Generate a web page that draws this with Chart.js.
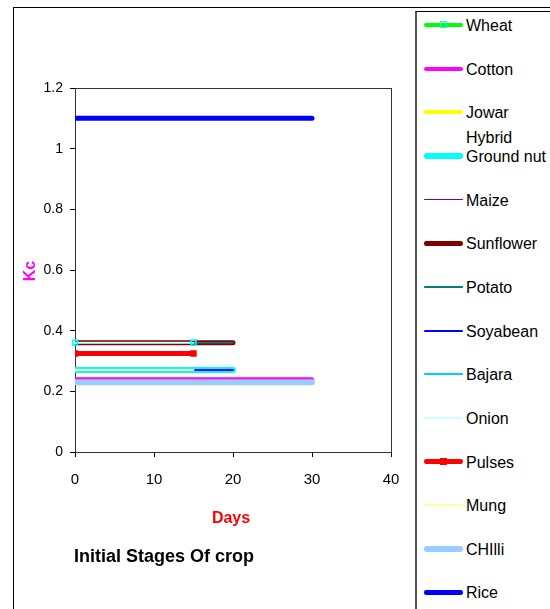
<!DOCTYPE html>
<html>
<head>
<meta charset="utf-8">
<script src="https://cdn.jsdelivr.net/npm/chart.js@4.4.1/dist/chart.umd.min.js"></script>
<style>
  html, body { margin: 0; padding: 0; background: #fff; }
  #wrap { position: relative; width: 550px; height: 609px; overflow: hidden; font-family: "Liberation Sans", Arial, sans-serif; }
  #c { position: absolute; left: 0; top: 0; }
  #legend { position: absolute; left: 415px; top: 11px; width: 220px; height: 700px; background: #fff;
            border: 1px solid #000; border-left: 2px solid #555; box-sizing: border-box; }
  .sw { position: absolute; left: 7px; width: 39px; }
  .mk { position: absolute; box-sizing: border-box; }
  .lb { position: absolute; left: 49px; font-size: 16px; line-height: 18px; white-space: nowrap; color: #000; }
</style>
</head>
<body>
<div id="wrap">
  <canvas id="c" width="550" height="609"></canvas>
  <div id="legend"></div>
</div>
<script>
// Crop coefficient (Kc) during the initial growth stage, per crop
const crops    = ['Wheat', 'Cotton', 'Jowar Hybrid', 'Ground nut', 'Maize', 'Sunflower', 'Potato',
                  'Soyabean', 'Bajara', 'Onion', 'Pulses', 'Mung', 'CHIlli', 'Rice'];
const startDay = [0, 0, 0, 0, 0, 0, 0, 0, 0, 0, 0, 0, 0, 0];
const endDay   = [15, 30, 15, 20, 20, 20, 20, 20, 15, 15, 15, 15, 30, 30];
const kcInit   = [0.36, 0.24, 0.27, 0.27, 0.36, 0.36, 0.36, 0.27, 0.27, 0.36, 0.325, 0.27, 0.23, 1.1];

// Axis tick values
const dayTicks = [0, 10, 20, 30, 40];
const kcTicks  = [0, 0.2, 0.4, 0.6, 0.8, 1, 1.2];

// Series styling
const lineColor = ['#00FF00', '#FF00FF', '#FFFF00', '#00FFFF', '#800080', '#800000', '#008080',
                   '#0000FF', '#00CCFF', '#CCFFFF', '#FF0000', '#FFFF99', '#99CCFF', '#0000FF'];
const lineWidth = [4, 4, 4, 6, 1.5, 5, 1.5, 2, 1.5, 2, 5, 2, 6, 5];
const markerIdx = { 0: { color: '#00FFFF', fill: false }, 10: { color: '#FF0000', fill: true } };

const datasets = crops.map((name, i) => {
  const m = markerIdx[i];
  return {
    label: name,
    data: [{ x: startDay[i], y: kcInit[i] }, { x: endDay[i], y: kcInit[i] }],
    borderColor: lineColor[i],
    borderWidth: lineWidth[i],
    borderCapStyle: 'round',
    fill: false,
    tension: 0,
    order: crops.length - i,          // later series are painted over earlier ones
    pointStyle: 'rect',
    pointRadius: m ? 3.5 : 0,
    pointHoverRadius: m ? 3.5 : 0,
    pointBorderColor: m ? m.color : lineColor[i],
    pointBorderWidth: m ? 1.5 : 0,
    pointBackgroundColor: m && m.fill ? m.color : 'rgba(0,0,0,0)'
  };
});

const framePlugin = {
  id: 'frame',
  beforeDraw(chart) {
    const ctx = chart.ctx;
    ctx.save();
    ctx.fillStyle = '#fff';
    ctx.fillRect(0, 0, chart.width, chart.height);
    ctx.strokeStyle = '#000';
    ctx.lineWidth = 1;
    ctx.strokeRect(13.5, 7.5, 700, 800);
    ctx.restore();
  },
  beforeDatasetsDraw(chart) {
    const { ctx, chartArea: a } = chart;
    ctx.save();
    ctx.strokeStyle = '#333';
    ctx.lineWidth = 1;
    ctx.strokeRect(Math.round(a.left) + 0.5, Math.round(a.top) + 0.5,
                   Math.round(a.right - a.left), Math.round(a.bottom - a.top));
    ctx.restore();
  },
  afterDatasetsDraw(chart) {
    // wheat markers sit on top of the overlapping lines
    const ctx = chart.ctx;
    ctx.save();
    chart.getDatasetMeta(0).data.forEach(p => p.draw(ctx, chart.chartArea));
    ctx.restore();
  },
  afterDraw(chart) {
    const ctx = chart.ctx;
    ctx.save();
    ctx.font = 'bold 16px "Liberation Sans", Arial, sans-serif';
    ctx.fillStyle = '#FF0000';
    ctx.textAlign = 'center';
    ctx.textBaseline = 'alphabetic';
    ctx.fillText('Days', 231, 523);

    ctx.fillStyle = '#000';
    ctx.textAlign = 'left';
    ctx.font = 'bold 18px "Liberation Sans", Arial, sans-serif';
    ctx.fillText('Initial Stages Of crop', 74, 562);

    ctx.translate(35, 271);
    ctx.rotate(-Math.PI / 2);
    ctx.font = 'bold 16px "Liberation Sans", Arial, sans-serif';
    ctx.fillStyle = '#FF00FF';
    ctx.textAlign = 'center';
    ctx.fillText('Kc', 0, 0);
    ctx.restore();
  }
};

new Chart(document.getElementById('c'), {
  type: 'line',
  data: { datasets },
  plugins: [framePlugin],
  options: {
    responsive: false,
    animation: false,
    devicePixelRatio: 1,
    layout: { padding: { left: 0, top: 88, right: 159, bottom: 0 } },
    plugins: { legend: { display: false }, tooltip: { enabled: false }, title: { display: false } },
    scales: {
      x: {
        type: 'linear',
        min: 0, max: 40,
        afterFit(s) { s.height = 157; },
        afterBuildTicks(s) { s.ticks = dayTicks.map(v => ({ value: v })); },
        grid: { drawOnChartArea: false, drawTicks: true, tickLength: 5, color: '#000' },
        border: { display: true, color: '#000', width: 1 },
        ticks: { color: '#000', padding: 14, maxRotation: 0,
                 font: { family: '"Liberation Sans", Arial, sans-serif', size: 15 } }
      },
      y: {
        type: 'linear',
        min: 0, max: 1.2,
        afterFit(s) { s.width = 75; },
        afterBuildTicks(s) { s.ticks = kcTicks.map(v => ({ value: v })); },
        grid: { drawOnChartArea: false, drawTicks: true, tickLength: 5, color: '#000' },
        border: { display: true, color: '#000', width: 1 },
        ticks: { color: '#000', padding: 7,
                 callback: v => String(v),
                 font: { family: '"Liberation Sans", Arial, sans-serif', size: 14 } }
      }
    }
  }
});

// Legend box
const legend = document.getElementById('legend');
const boxTop = 11, boxLeft = 415;
crops.forEach((name, i) => {
  const yc = 24 + i * 43.65 - boxTop;
  const w = Math.max(lineWidth[i] - (lineWidth[i] > 4 ? 0.5 : 0), 1.5);
  const sw = document.createElement('div');
  sw.className = 'sw';
  sw.style.top = (yc - w / 2) + 'px';
  sw.style.height = w + 'px';
  sw.style.background = lineColor[i];
  sw.style.borderRadius = (w / 2) + 'px';
  legend.appendChild(sw);

  const m = markerIdx[i];
  if (m) {
    const mk = document.createElement('div');
    mk.className = 'mk';
    mk.style.left = (7 + 19.5 - 3.5) + 'px';
    mk.style.top = (yc - 4) + 'px';
    mk.style.width = '7px';
    mk.style.height = '7px';
    mk.style.border = '1.5px solid ' + m.color;
    if (m.fill) mk.style.background = m.color;
    legend.appendChild(mk);
  }

  const words = name.split(' ');
  const lines = name === 'Jowar Hybrid' ? words : [name];
  lines.forEach((t, k) => {
    const lb = document.createElement('div');
    lb.className = 'lb';
    lb.textContent = t;
    lb.style.top = (yc - 8 + k * 25) + 'px';
    legend.appendChild(lb);
  });
});
</script>
</body>
</html>
